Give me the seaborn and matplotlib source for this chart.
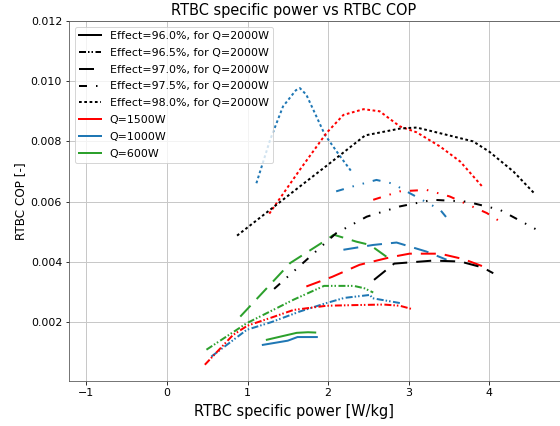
import matplotlib
matplotlib.use("Agg")
import matplotlib.pyplot as plt
from matplotlib.lines import Line2D
import pandas as pd
import seaborn as sns

# ---- RTBC performance curves: specific power [W/kg] vs COP [-] ----
# Q = 2000 W
q2000_e970_x = [2.57, 2.82, 3.30, 3.64, 3.92, 4.05]
q2000_e970_y = [0.00340, 0.00394, 0.00404, 0.00401, 0.00381, 0.00362]
q2000_e975_x = [1.33, 1.78, 2.10, 2.48, 2.89, 3.30, 3.72, 4.13, 4.67]
q2000_e975_y = [0.00310, 0.00418, 0.00495, 0.00550, 0.00584, 0.00606, 0.00600, 0.00573, 0.00495]
q2000_e980_x = [0.87, 1.20, 1.60, 2.00, 2.46, 2.90, 3.10, 3.50, 3.80, 4.00, 4.30, 4.55]
q2000_e980_y = [0.00487, 0.00556, 0.00640, 0.00723, 0.00820, 0.00843, 0.00846, 0.00820, 0.00800, 0.00766, 0.00700, 0.00630]

# Q = 1500 W
q1500_e965_x = [0.47, 0.82, 1.00, 1.30, 1.57, 1.98, 2.30, 2.69, 2.89, 3.04]
q1500_e965_y = [0.00058, 0.00157, 0.00188, 0.00215, 0.00240, 0.00254, 0.00256, 0.00258, 0.00254, 0.00243]
q1500_e970_x = [1.73, 2.05, 2.39, 2.77, 3.01, 3.39, 3.68, 3.95]
q1500_e970_y = [0.00318, 0.00350, 0.00390, 0.00415, 0.00427, 0.00427, 0.00409, 0.00382]
q1500_e975_x = [2.56, 2.89, 3.22, 3.51, 3.97, 4.15]
q1500_e975_y = [0.00606, 0.00634, 0.00639, 0.00617, 0.00562, 0.00531]
q1500_e980_x = [1.27, 1.65, 1.98, 2.19, 2.44, 2.64, 2.89, 3.10, 3.39, 3.64, 3.92]
q1500_e980_y = [0.00560, 0.00706, 0.00828, 0.00888, 0.00907, 0.00900, 0.00850, 0.00830, 0.00783, 0.00733, 0.00648]

# Q = 1000 W
q1000_e960_x = [1.19, 1.50, 1.62, 1.86]
q1000_e960_y = [0.00124, 0.00138, 0.00150, 0.00150]
q1000_e965_x = [0.55, 0.99, 1.30, 1.65, 1.98, 2.20, 2.52, 2.55, 2.89]
q1000_e965_y = [0.00085, 0.00174, 0.00200, 0.00235, 0.00263, 0.00280, 0.00290, 0.00279, 0.00263]
q1000_e970_x = [2.19, 2.56, 2.85, 3.22, 3.47]
q1000_e970_y = [0.00440, 0.00456, 0.00464, 0.00434, 0.00407]
q1000_e975_x = [2.10, 2.30, 2.60, 2.80, 3.00, 3.39, 3.51]
q1000_e975_y = [0.00634, 0.00650, 0.00672, 0.00660, 0.00630, 0.00573, 0.00534]
q1000_e980_x = [1.11, 1.28, 1.44, 1.60, 1.65, 1.73, 1.96, 2.15, 2.29]
q1000_e980_y = [0.00661, 0.00805, 0.00916, 0.00970, 0.00977, 0.00955, 0.00822, 0.00750, 0.00700]

# Q = 600 W
q600_e960_x = [1.24, 1.61, 1.75, 1.84]
q600_e960_y = [0.00141, 0.00164, 0.00166, 0.00165]
q600_e965_x = [0.49, 0.99, 1.57, 1.95, 2.32, 2.45, 2.56]
q600_e965_y = [0.00108, 0.00196, 0.00274, 0.00320, 0.00320, 0.00312, 0.00298]
q600_e970_x = [0.91, 1.53, 1.98, 2.07, 2.35, 2.52, 2.75]
q600_e970_y = [0.00218, 0.00396, 0.00473, 0.00490, 0.00467, 0.00456, 0.00412]

curves = [
    (2000, "97.0", q2000_e970_x, q2000_e970_y),
    (2000, "97.5", q2000_e975_x, q2000_e975_y),
    (2000, "98.0", q2000_e980_x, q2000_e980_y),
    (1500, "96.5", q1500_e965_x, q1500_e965_y),
    (1500, "97.0", q1500_e970_x, q1500_e970_y),
    (1500, "97.5", q1500_e975_x, q1500_e975_y),
    (1500, "98.0", q1500_e980_x, q1500_e980_y),
    (1000, "96.0", q1000_e960_x, q1000_e960_y),
    (1000, "96.5", q1000_e965_x, q1000_e965_y),
    (1000, "97.0", q1000_e970_x, q1000_e970_y),
    (1000, "97.5", q1000_e975_x, q1000_e975_y),
    (1000, "98.0", q1000_e980_x, q1000_e980_y),
    (600, "96.0", q600_e960_x, q600_e960_y),
    (600, "96.5", q600_e965_x, q600_e965_y),
    (600, "97.0", q600_e970_x, q600_e970_y),
]

rows = []
for q, eff, xs, ys in curves:
    for x, y in zip(xs, ys):
        rows.append({"Q": q, "effect": eff, "power": x, "cop": y})
df = pd.DataFrame(rows)

q_levels = [2000, 1500, 1000, 600]
q_colors = ["black", "red", "#1f77b4", "#2ca02c"]
effect_levels = ["96.0", "96.5", "97.0", "97.5", "98.0"]
# dash patterns in units of line width
effect_dashes = ["", (3.5, 1, 0.75, 1, 0.75, 1.25), (7.5, 4.5),
                 (4, 4.5, 0.75, 4.5, 0.75, 4.5), (1.35, 1.3)]

palette = dict(zip(q_levels, q_colors))
dashes = dict(zip(effect_levels, effect_dashes))

W, H, DPI = 560, 426, 72
fig = plt.figure(figsize=(W / DPI, H / DPI), dpi=DPI)
ax_left, ax_right, ax_top, ax_bottom = 69, 620, 21, 381
ax = fig.add_axes([ax_left / W, 1 - ax_bottom / H,
                   (ax_right - ax_left) / W, (ax_bottom - ax_top) / H])

sns.lineplot(data=df, x="power", y="cop", hue="Q", style="effect",
             palette=palette, dashes=dashes, estimator=None, sort=False,
             linewidth=2, legend=False, ax=ax)

ax.set_xlim(-1.216, 5.623)
ax.set_ylim(0.00004, 0.012)
ax.set_xticks([-1, 0, 1, 2, 3, 4])
ax.set_xticklabels(["\u22121", "0", "1", "2", "3", "4"], fontsize=11)
y_ticks = [0.002, 0.004, 0.006, 0.008, 0.010, 0.012]
ax.set_yticks(y_ticks)
ax.set_yticklabels(["0.002", "0.004", "0.006", "0.008", "0.010", "0.012"], fontsize=11)
ax.grid(True, color="#c8c8c8", linewidth=1)
ax.set_axisbelow(True)
for s in ax.spines.values():
    s.set_color("#555555")

center = (294 - ax_left) / (ax_right - ax_left)
ax.set_title("RTBC specific power vs RTBC COP", fontsize=14.5, x=center)
ax.set_xlabel("RTBC specific power [W/kg]", fontsize=14.5)
ax.xaxis.set_label_coords(center, -0.065)
ax.set_ylabel("RTBC COP [-]", fontsize=12)

handles = []
labels = []
for eff, d in zip(effect_levels, effect_dashes):
    if d == "":
        h = Line2D([], [], color="black", linewidth=2)
    else:
        h = Line2D([], [], color="black", linewidth=2, dashes=d)
    handles.append(h)
    labels.append(f"Effect={eff}%, for Q=2000W")
for q, c in zip(q_levels[1:], q_colors[1:]):
    handles.append(Line2D([], [], color=c, linewidth=2))
    labels.append(f"Q={q}W")
ax.legend(handles, labels, loc="upper left", fontsize=11, labelspacing=0.62)

fig.savefig("out.png", dpi=DPI)
